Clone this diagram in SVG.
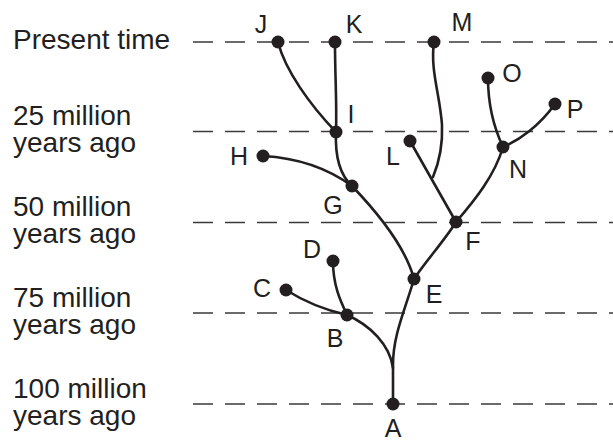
<svg xmlns="http://www.w3.org/2000/svg" width="613" height="441" viewBox="0 0 613 441">
<style>
.axis{font-family:"Liberation Sans",Arial,sans-serif;font-size:28px;fill:#231f20}
.lbl{font-family:"Liberation Sans",Arial,sans-serif;font-size:25px;fill:#231f20;text-anchor:middle}
.dash{stroke:#3a3a3a;stroke-width:1.6;stroke-dasharray:20 12;fill:none}
.br{stroke:#231f20;stroke-width:2.6;fill:none;stroke-linecap:round}
.dot{fill:#231f20}
</style>
<rect width="613" height="441" fill="#ffffff"/>
<g id="timescale">
<text class="axis" x="13" y="49">Present time</text>
<text class="axis" x="13" y="125">25 million<tspan x="13" dy="27">years ago</tspan></text>
<text class="axis" x="13" y="216">50 million<tspan x="13" dy="27">years ago</tspan></text>
<text class="axis" x="13" y="307">75 million<tspan x="13" dy="27">years ago</tspan></text>
<text class="axis" x="13" y="398">100 million<tspan x="13" dy="27">years ago</tspan></text>
<line class="dash" x1="193" y1="42" x2="613" y2="42"/>
<line class="dash" x1="193" y1="131.5" x2="613" y2="131.5"/>
<line class="dash" x1="193" y1="222.5" x2="613" y2="222.5"/>
<line class="dash" x1="193" y1="313" x2="613" y2="313"/>
<line class="dash" x1="193" y1="404" x2="613" y2="404"/>
</g>
<g id="connectors">
<path class="br" d="M278,42 C285,70 310,105 336,132"/>
<path class="br" d="M335,42 C335,80 337,100 336,132"/>
<path class="br" d="M336,132 C335,155 340,175 352,186"/>
<path class="br" d="M263,156 C300,158 330,170 352,186"/>
<path class="br" d="M352,186 C375,210 405,245 414,279"/>
<path class="br" d="M414,279 C405,310 393,335 393,365 L393,404"/>
<path class="br" d="M347,315 C370,325 390,345 393,368"/>
<path class="br" d="M286,290 C305,302 325,310 347,315"/>
<path class="br" d="M333,261 C333,285 340,300 347,315"/>
<path class="br" d="M414,279 C425,262 445,240 456,222"/>
<path class="br" d="M410,141 L456,222"/>
<path class="br" d="M434,42 C430,70 440,95 442,125 C443,148 438,165 433,177"/>
<path class="br" d="M456,222 C475,200 495,175 503,147"/>
<path class="br" d="M488,78 C488,105 495,130 503,147"/>
<path class="br" d="M503,147 C520,140 540,125 555,104"/>
</g>
<g id="node-A"><circle class="dot" cx="393" cy="404" r="6.5"/><text class="lbl" x="393" y="437">A</text></g>
<g id="node-B"><circle class="dot" cx="347" cy="315" r="6.5"/><text class="lbl" x="335" y="347">B</text></g>
<g id="node-C"><circle class="dot" cx="286" cy="290" r="6.5"/><text class="lbl" x="262" y="297">C</text></g>
<g id="node-D"><circle class="dot" cx="333" cy="261" r="6.5"/><text class="lbl" x="312" y="258">D</text></g>
<g id="node-E"><circle class="dot" cx="414" cy="279" r="6.5"/><text class="lbl" x="434" y="303">E</text></g>
<g id="node-F"><circle class="dot" cx="456" cy="222" r="6.5"/><text class="lbl" x="473" y="250">F</text></g>
<g id="node-G"><circle class="dot" cx="352" cy="186" r="6.5"/><text class="lbl" x="333" y="214">G</text></g>
<g id="node-H"><circle class="dot" cx="263" cy="156" r="6.5"/><text class="lbl" x="239" y="165">H</text></g>
<g id="node-I"><circle class="dot" cx="336" cy="132" r="6.5"/><text class="lbl" x="351" y="123">I</text></g>
<g id="node-J"><circle class="dot" cx="278" cy="42" r="6.5"/><text class="lbl" x="261" y="33">J</text></g>
<g id="node-K"><circle class="dot" cx="335" cy="42" r="6.5"/><text class="lbl" x="354" y="33">K</text></g>
<g id="node-L"><circle class="dot" cx="410" cy="141" r="6.5"/><text class="lbl" x="393" y="165">L</text></g>
<g id="node-M"><circle class="dot" cx="434" cy="42" r="6.5"/><text class="lbl" x="462" y="31">M</text></g>
<g id="node-N"><circle class="dot" cx="503" cy="147" r="6.5"/><text class="lbl" x="518" y="178">N</text></g>
<g id="node-O"><circle class="dot" cx="488" cy="78" r="6.5"/><text class="lbl" x="512" y="82">O</text></g>
<g id="node-P"><circle class="dot" cx="555" cy="104" r="6.5"/><text class="lbl" x="575" y="118">P</text></g>
</svg>
